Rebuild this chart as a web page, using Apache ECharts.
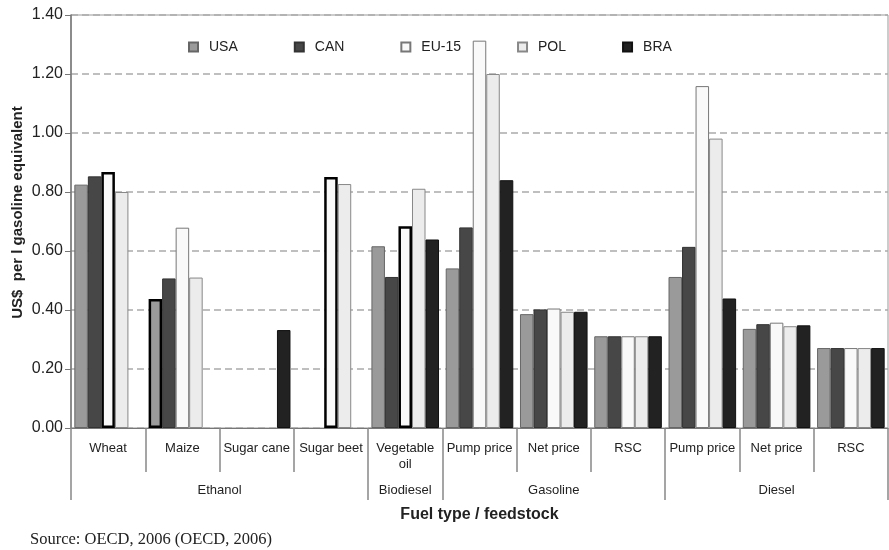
<!DOCTYPE html>
<html>
<head>
<meta charset="utf-8">
<script src="https://cdn.jsdelivr.net/npm/echarts@6/dist/echarts.min.js"></script>
<style>
  html, body { margin: 0; padding: 0; background: #fff; }
  #chart { width: 889px; height: 550px; }
</style>
</head>
<body>
<div id="chart"></div>
<script>
// Fuel / feedstock categories along the x axis
const categories = ['Wheat', 'Maize', 'Sugar cane', 'Sugar beet', 'Vegetable\noil',
  'Pump price', 'Net price', 'RSC', 'Pump price', 'Net price', 'RSC'];

// Fuel groups: name, first category index, last category index (exclusive)
const groupNames = ['Ethanol', 'Biodiesel', 'Gasoline', 'Diesel'];
const groupStarts = [0, 4, 5, 8];
const groupEnds = [4, 5, 8, 11];

// Costs in US$ per litre gasoline equivalent
const usa  = [0.825, 0.437, null, null, 0.616, 0.541, 0.386, 0.311, 0.512, 0.336, 0.271];
const can  = [0.853, 0.507, null, null, 0.512, 0.680, 0.402, 0.311, 0.614, 0.352, 0.271];
const eu15 = [0.868, 0.679, null, 0.851, 0.684, 1.313, 0.405, 0.311, 1.159, 0.357, 0.271];
const pol  = [0.800, 0.510, null, 0.827, 0.811, 1.200, 0.394, 0.311, 0.981, 0.345, 0.271];
const bra  = [null, null, 0.332, null, 0.639, 0.840, 0.394, 0.311, 0.439, 0.348, 0.271];

// Bars drawn with a heavy outline: [series name, category index]
const outlined = [['EU-15', 0], ['USA', 1], ['EU-15', 3], ['EU-15', 4]];

const yTicks = [0, 0.2, 0.4, 0.6, 0.8, 1.0, 1.2, 1.4];

const seriesDefs = [
  { name: 'USA',   values: usa,  fill: '#9a9a9a', edge: '#666666' },
  { name: 'CAN',   values: can,  fill: '#474747', edge: '#333333' },
  { name: 'EU-15', values: eu15, fill: '#f9f9f9', edge: '#777777' },
  { name: 'POL',   values: pol,  fill: '#ececec', edge: '#888888' },
  { name: 'BRA',   values: bra,  fill: '#222222', edge: '#111111' }
];

const FONT = '"Liberation Sans", Arial, sans-serif';

const series = seriesDefs.map(function (s) {
  return {
    name: s.name,
    type: 'bar',
    xAxisIndex: 0,
    barGap: '0%',
    barCategoryGap: '9%',
    itemStyle: { color: s.fill, borderColor: s.edge, borderWidth: 1 },
    emphasis: { disabled: true },
    data: s.values.map(function (v, i) {
      const heavy = outlined.some(function (o) { return o[0] === s.name && o[1] === i; });
      if (v === null) return null;
      return heavy
        ? { value: v, itemStyle: { borderColor: '#000000', borderWidth: 2.5 } }
        : v;
    })
  };
});

// Centres and boundaries of the fuel groups on the secondary (value) axis
const groupCentres = groupStarts.map(function (s, i) { return (s + groupEnds[i]) / 2; });
const groupBounds = [0].concat(groupEnds);

const chart = echarts.init(document.getElementById('chart'), null, { renderer: 'canvas' });
chart.setOption({
  animation: false,
  backgroundColor: '#ffffff',
  title: {
    text: 'Source: OECD, 2006 (OECD, 2006)',
    left: 30,
    top: 531,
    padding: 0,
    textStyle: { fontFamily: '"Liberation Serif", "Times New Roman", serif', fontSize: 16.5, fontWeight: 'normal', color: '#222' }
  },
  legend: {
    data: seriesDefs.map(function (s) { return s.name; }),
    left: 188,
    top: 40,
    padding: 0,
    itemWidth: 9,
    itemHeight: 9,
    itemGap: 56,
    icon: 'rect',
    selectedMode: false,
    textStyle: { fontFamily: FONT, fontSize: 14, color: '#222', padding: [0, 0, 0, 6] }
  },
  grid: {
    left: 71, right: 1, top: 15, bottom: 122,
    outerBoundsMode: 'none',
    containLabel: false,
    show: true, borderColor: '#999', borderWidth: 1, backgroundColor: 'transparent'
  },
  xAxis: [
    {
      type: 'category',
      data: categories,
      position: 'bottom',
      axisLine: { show: true, lineStyle: { color: '#777', width: 1 } },
      axisTick: { show: true, length: 44, lineStyle: { color: '#888', width: 1.5 } },
      axisLabel: { interval: 0, margin: 12, fontFamily: FONT, fontSize: 13, color: '#222', lineHeight: 16 },
      splitLine: { show: false }
    },
    {
      type: 'value',
      min: 0,
      max: 11,
      position: 'bottom',
      name: 'Fuel type / feedstock',
      nameLocation: 'middle',
      nameGap: 79,
      nameMoveOverlap: false,
      nameTextStyle: { fontFamily: FONT, fontSize: 16, fontWeight: 'bold', color: '#222' },
      axisLine: { show: false },
      axisTick: { show: true, length: 72, customValues: groupBounds, lineStyle: { color: '#888', width: 1.5 } },
      axisLabel: {
        show: true,
        margin: 56,
        customValues: groupCentres,
        fontFamily: FONT, fontSize: 13, color: '#222',
        formatter: function (v) {
          const k = groupCentres.indexOf(v);
          return k >= 0 ? groupNames[k] : '';
        }
      },
      splitLine: { show: false }
    }
  ],
  yAxis: {
    type: 'value',
    min: yTicks[0],
    max: yTicks[yTicks.length - 1],
    interval: 0.2,
    name: 'US$  per l gasoline equivalent',
    nameLocation: 'middle',
    nameGap: 46,
    nameMoveOverlap: false,
    nameTextStyle: { fontFamily: FONT, fontSize: 15, fontWeight: 'bold', color: '#222', padding: [0, 0, 0, 18] },
    axisLine: { show: true, lineStyle: { color: '#777', width: 1.5 } },
    axisTick: { show: true, length: 6, lineStyle: { color: '#777' } },
    axisLabel: { margin: 8, fontFamily: FONT, fontSize: 16, color: '#222', formatter: function (v) { return v.toFixed(2); } },
    splitLine: { show: true, lineStyle: { color: '#aaa', width: 1.5, type: [7, 4] } }
  },
  series: series
});
</script>
</body>
</html>
